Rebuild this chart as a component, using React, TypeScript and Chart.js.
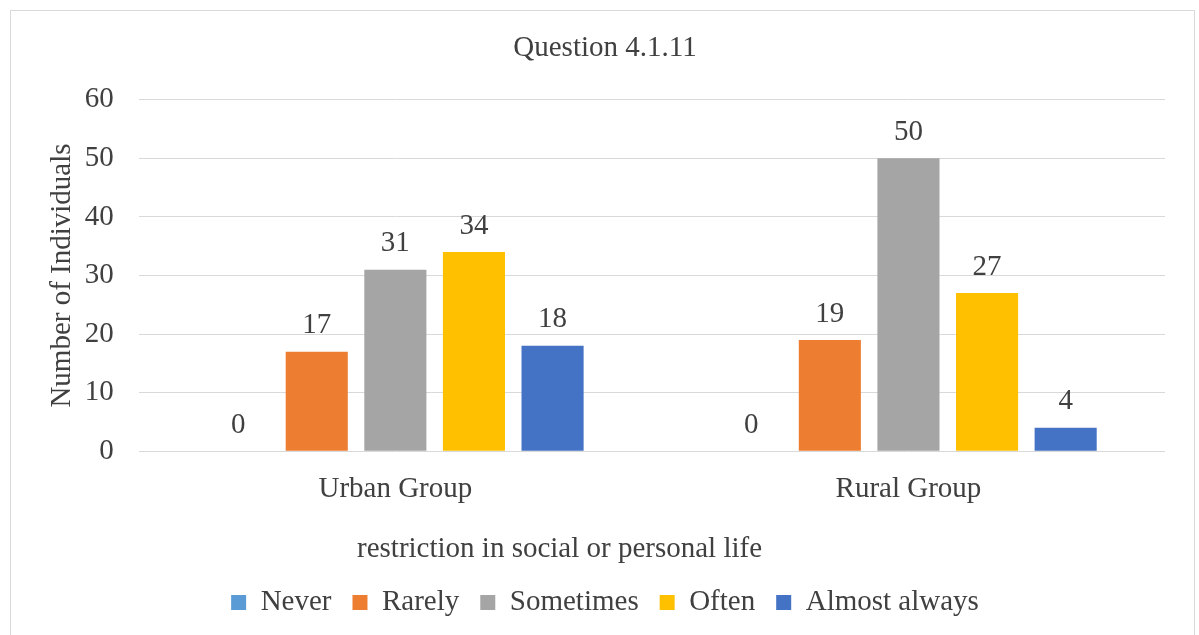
import React, { useEffect, useRef } from "react";
import { Chart, registerables } from "chart.js";

Chart.register(...registerables);

// Categories and series values
const groups = ["Urban Group", "Rural Group"];
const seriesNames = ["Never", "Rarely", "Sometimes", "Often", "Almost always"];
const never = [0, 0];
const rarely = [17, 19];
const sometimes = [31, 50];
const often = [34, 27];
const almostAlways = [18, 4];
const seriesColors = ["#5B9BD5", "#ED7D31", "#A5A5A5", "#FFC000", "#4472C4"];

// Axis setup
const yMin = 0;
const yMax = 60;
const yStep = 10;

const chartTitle = "Question 4.1.11";
const xTitle = "restriction in social or personal life";
const yTitle = "Number of Individuals";

const FONT = '"Liberation Serif", "Times New Roman", Times, serif';
const TEXT = "#404040";
const GRID = "#d9d9d9";
const SIZE = 29;

// Extra room under the category labels for the axis caption
const X_CAPTION_SPACE = 47;
// Caption sits a little left of the plot centre
const X_CAPTION_POS = 0.41;

// Writes each bar's value just above it
const valueLabels = {
  id: "valueLabels",
  afterDatasetsDraw(chart: any) {
    const ctx = chart.ctx;
    ctx.save();
    ctx.font = `${SIZE}px ${FONT}`;
    ctx.fillStyle = TEXT;
    ctx.textAlign = "center";
    ctx.textBaseline = "middle";
    chart.data.datasets.forEach((ds: any, i: number) => {
      const meta = chart.getDatasetMeta(i);
      meta.data.forEach((bar: any, j: number) => {
        ctx.fillText(String(ds.data[j]), bar.x, bar.y - 26);
      });
    });
    ctx.restore();
  },
};

// Draws the horizontal axis caption in the space reserved below the ticks
const xCaption = {
  id: "xCaption",
  afterDraw(chart: any) {
    const { ctx, chartArea } = chart;
    const xScale = chart.scales.x;
    ctx.save();
    ctx.font = `${SIZE}px ${FONT}`;
    ctx.fillStyle = TEXT;
    ctx.textAlign = "center";
    ctx.textBaseline = "middle";
    const x = chartArea.left + (chartArea.right - chartArea.left) * X_CAPTION_POS;
    ctx.fillText(xTitle, x, xScale.bottom - 18);
    ctx.restore();
  },
};

export default function App() {
  const canvasRef = useRef<HTMLCanvasElement | null>(null);

  useEffect(() => {
    const canvas = canvasRef.current;
    if (!canvas) return;
    const values = [never, rarely, sometimes, often, almostAlways];
    const font = { family: FONT, size: SIZE, weight: "normal" as const };
    const chart = new Chart(canvas, {
      type: "bar",
      data: {
        labels: groups,
        datasets: seriesNames.map((name, i) => ({
          label: name,
          data: values[i],
          backgroundColor: seriesColors[i],
          borderWidth: 0,
          categoryPercentage: 0.766,
          barPercentage: 0.79,
        })),
      },
      options: {
        responsive: false,
        animation: false,
        devicePixelRatio: 1,
        layout: { padding: { top: 10, left: 45, right: 34, bottom: 8 } },
        plugins: {
          title: {
            display: true,
            text: chartTitle,
            color: TEXT,
            font,
            padding: { top: 21, bottom: 34 },
          },
          legend: {
            position: "bottom",
            labels: {
              boxWidth: 15,
              boxHeight: 15,
              padding: 21,
              color: TEXT,
              font,
            },
          },
          tooltip: { enabled: false },
        },
        scales: {
          x: {
            grid: { display: false },
            border: { display: false },
            ticks: { color: TEXT, font, padding: 13 },
            afterFit: (scale: any) => {
              scale.height += X_CAPTION_SPACE;
            },
          },
          y: {
            min: yMin,
            max: yMax,
            ticks: { stepSize: yStep, color: TEXT, font, padding: 25 },
            grid: { color: GRID, lineWidth: 1, drawTicks: false },
            border: { display: false },
            title: {
              display: true,
              text: yTitle,
              color: TEXT,
              font,
              padding: { top: 0, bottom: -20 },
            },
          },
        },
      },
      plugins: [valueLabels, xCaption],
    });
    return () => chart.destroy();
  }, []);

  return (
    <div
      style={{
        position: "fixed",
        left: 0,
        top: 0,
        width: 1199,
        height: 635,
        overflow: "hidden",
        background: "#ffffff",
      }}
    >
      <div
        style={{
          position: "absolute",
          left: 10,
          top: 10,
          width: 1185,
          height: 700,
          boxSizing: "border-box",
          border: `1px solid ${GRID}`,
        }}
      />
      <canvas
        ref={canvasRef}
        width={1199}
        height={635}
        style={{ position: "absolute", left: 0, top: 0 }}
      />
    </div>
  );
}
